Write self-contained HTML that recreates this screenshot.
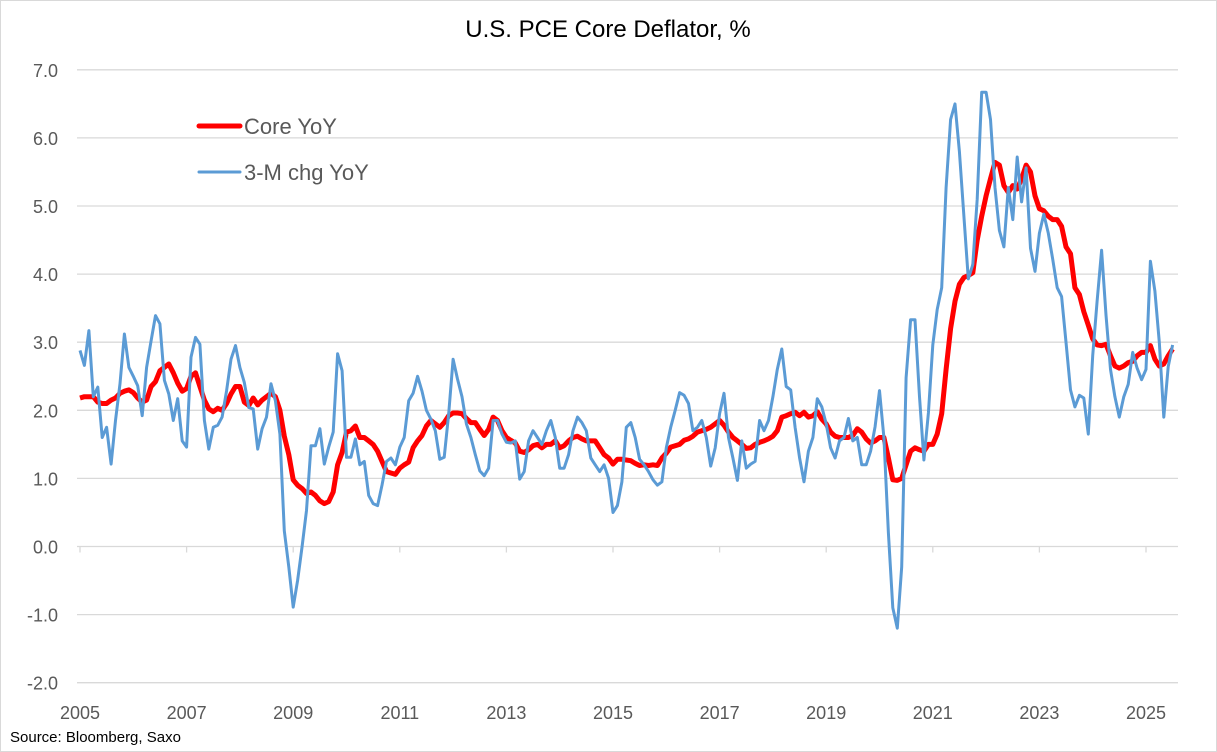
<!DOCTYPE html>
<html><head><meta charset="utf-8"><style>
html,body{margin:0;padding:0;background:#fff;}
svg{display:block;font-family:"Liberation Sans",Arial,sans-serif;}
</style></head><body>
<svg id="chart" width="1217" height="752" viewBox="0 0 1217 752">
<rect x="0.5" y="0.5" width="1216" height="751" fill="#fff" stroke="#d9d9d9"/>
<text x="608" y="37" text-anchor="middle" font-size="24" fill="#000">U.S. PCE Core Deflator, %</text>
<g id="grid"></g>
<g id="yaxis"></g>
<g id="xaxis"></g>
<g id="series"></g>
<g>
<g><line x1="199" y1="126" x2="240" y2="126" stroke="#ff0000" stroke-width="5" stroke-linecap="round"/><text x="244" y="134" font-size="22" fill="#595959">Core YoY</text></g>
<g><line x1="199" y1="172" x2="240" y2="172" stroke="#5b9bd5" stroke-width="3" stroke-linecap="round"/><text x="244" y="180" font-size="22" fill="#595959">3-M chg YoY</text></g>
</g>
<text x="10" y="742" font-size="15" fill="#000">Source: Bloomberg, Saxo</text>
</svg>
<script>
const yTicks = [7,6,5,4,3,2,1,0,-1,-2];
const yTickLabels = ["7.0","6.0","5.0","4.0","3.0","2.0","1.0","0.0","-1.0","-2.0"];
const xTickYears = [2005,2007,2009,2011,2013,2015,2017,2019,2021,2023,2025];
const startYear = 2005;
const coreYoY = [
2.18,2.2,2.2,2.2,2.12,2.1,2.1,2.15,2.18,2.25,2.28,2.3,
2.26,2.18,2.12,2.15,2.35,2.42,2.58,2.63,2.68,2.55,2.4,2.28,
2.32,2.5,2.55,2.35,2.15,2.02,1.98,2.03,2.0,2.1,2.24,2.35,
2.35,2.12,2.07,2.18,2.08,2.15,2.2,2.25,2.2,2.0,1.62,1.35,
0.98,0.9,0.85,0.78,0.8,0.75,0.67,0.63,0.66,0.8,1.2,1.38,
1.68,1.7,1.77,1.6,1.6,1.55,1.5,1.4,1.25,1.1,1.08,1.06,
1.15,1.2,1.24,1.45,1.55,1.63,1.77,1.85,1.8,1.75,1.82,1.92,
1.96,1.96,1.95,1.88,1.82,1.82,1.72,1.63,1.72,1.9,1.85,1.7,
1.6,1.56,1.52,1.4,1.38,1.42,1.48,1.5,1.45,1.5,1.5,1.55,
1.45,1.48,1.55,1.6,1.62,1.58,1.55,1.55,1.55,1.45,1.35,1.3,
1.21,1.28,1.28,1.27,1.26,1.22,1.19,1.2,1.19,1.2,1.19,1.3,
1.37,1.46,1.48,1.5,1.56,1.58,1.62,1.68,1.7,1.72,1.75,1.8,
1.85,1.78,1.68,1.6,1.55,1.5,1.44,1.45,1.5,1.53,1.55,1.58,
1.62,1.7,1.9,1.92,1.95,1.97,1.92,1.97,1.9,1.92,1.98,1.87,
1.8,1.68,1.62,1.6,1.6,1.6,1.63,1.73,1.68,1.58,1.52,1.55,
1.6,1.6,1.3,0.98,0.97,1.0,1.2,1.4,1.45,1.42,1.4,1.5,
1.5,1.65,1.95,2.6,3.2,3.6,3.85,3.95,3.98,4.02,4.5,4.85,
5.15,5.4,5.64,5.6,5.3,5.2,5.3,5.25,5.4,5.6,5.5,5.15,
4.96,4.93,4.85,4.8,4.8,4.7,4.4,4.3,3.8,3.7,3.45,3.25,
3.05,2.96,2.95,2.97,2.8,2.65,2.62,2.65,2.7,2.72,2.8,2.85,
2.85,2.95,2.75,2.65,2.68,2.8,2.9];
const threeMChgYoY = [
2.88,2.66,3.17,2.2,2.34,1.6,1.75,1.21,1.85,2.39,3.12,2.63,
2.5,2.36,1.92,2.63,3.02,3.39,3.27,2.44,2.24,1.85,2.17,1.55,
1.46,2.78,3.07,2.97,1.85,1.43,1.75,1.78,1.9,2.29,2.75,2.95,
2.63,2.41,2.04,2.02,1.43,1.73,1.9,2.39,2.14,1.65,0.23,-0.3,
-0.89,-0.5,0.0,0.53,1.48,1.48,1.73,1.21,1.46,1.68,2.83,2.58,
1.31,1.31,1.58,1.2,1.25,0.75,0.63,0.6,0.9,1.25,1.3,1.2,
1.46,1.6,2.14,2.25,2.5,2.28,2.0,1.87,1.7,1.28,1.31,1.95,
2.75,2.46,2.2,1.8,1.6,1.35,1.11,1.04,1.15,1.85,1.85,1.65,
1.53,1.52,1.55,0.99,1.1,1.55,1.7,1.6,1.5,1.7,1.85,1.6,
1.15,1.15,1.35,1.7,1.9,1.82,1.7,1.3,1.2,1.1,1.2,1.0,
0.5,0.6,0.95,1.75,1.82,1.6,1.28,1.2,1.1,0.98,0.9,0.95,
1.45,1.75,2.0,2.26,2.22,2.1,1.7,1.75,1.85,1.6,1.18,1.45,
1.95,2.25,1.6,1.3,0.97,1.55,1.15,1.21,1.25,1.85,1.7,1.85,
2.2,2.6,2.9,2.35,2.3,1.75,1.3,0.95,1.4,1.6,2.17,2.05,
1.8,1.45,1.3,1.55,1.6,1.88,1.55,1.6,1.2,1.2,1.4,1.76,
2.29,1.6,0.2,-0.9,-1.2,-0.3,2.48,3.33,3.33,2.2,1.27,1.96,
2.96,3.48,3.8,5.27,6.27,6.5,5.8,4.85,3.93,4.14,5.1,6.67,
6.67,6.27,5.27,4.64,4.4,5.27,4.8,5.72,5.06,5.56,4.38,4.04,
4.6,4.88,4.6,4.22,3.8,3.67,3.0,2.3,2.05,2.22,2.18,1.65,
2.8,3.6,4.35,3.4,2.6,2.2,1.9,2.2,2.38,2.85,2.62,2.45,
2.6,4.19,3.75,3.0,1.9,2.64,2.96];

const NS = "http://www.w3.org/2000/svg";
const X0 = 80, PX_PER_YEAR = 53.3, PLOT_RIGHT = 1178;
const Y_ZERO = 546.5, PX_PER_UNIT = 68.1;
function xScale(monthIndex){ return X0 + monthIndex * PX_PER_YEAR / 12; }
function xYear(year){ return X0 + (year - startYear) * PX_PER_YEAR; }
function yScale(v){ return Y_ZERO - v * PX_PER_UNIT; }
function mk(tag, attrs){ const e = document.createElementNS(NS, tag); for (const k in attrs) e.setAttribute(k, attrs[k]); return e; }

const grid = document.getElementById('grid');
const yaxis = document.getElementById('yaxis');
yTicks.forEach((t, i) => {
  const ln = mk('line', {x1: 77, x2: PLOT_RIGHT, y1: yScale(t), y2: yScale(t), stroke: '#d9d9d9', 'stroke-width': 1.3});
  
  
  grid.appendChild(ln);
  const tx = mk('text', {x: 58, y: yScale(t) + 7, 'text-anchor': 'end', 'font-size': 18, fill: '#595959'});
  tx.textContent = yTickLabels[i];
  
  
  yaxis.appendChild(tx);
});
const xaxis = document.getElementById('xaxis');
xTickYears.forEach(yr => {
  const x = xYear(yr);
  const tk = mk('line', {x1: x, x2: x, y1: yScale(0), y2: yScale(0) + 6, stroke: '#d9d9d9', 'stroke-width': 1.3});
  
  
  xaxis.appendChild(tk);
  const tx = mk('text', {x: x, y: 719, 'text-anchor': 'middle', 'font-size': 18, fill: '#595959'});
  tx.textContent = String(yr);
  
  
  xaxis.appendChild(tx);
});
function pathFor(arr){ return arr.map((v, i) => (i ? 'L' : 'M') + xScale(i).toFixed(1) + ',' + yScale(v).toFixed(1)).join(' '); }
const series = document.getElementById('series');
const red = mk('path', {d: pathFor(coreYoY), fill: 'none', stroke: '#ff0000', 'stroke-width': 5, 'stroke-linejoin': 'round'});


series.appendChild(red);
const blue = mk('path', {d: pathFor(threeMChgYoY), fill: 'none', stroke: '#5b9bd5', 'stroke-width': 3, 'stroke-linejoin': 'round'});


series.appendChild(blue);
</script>
</body></html>
